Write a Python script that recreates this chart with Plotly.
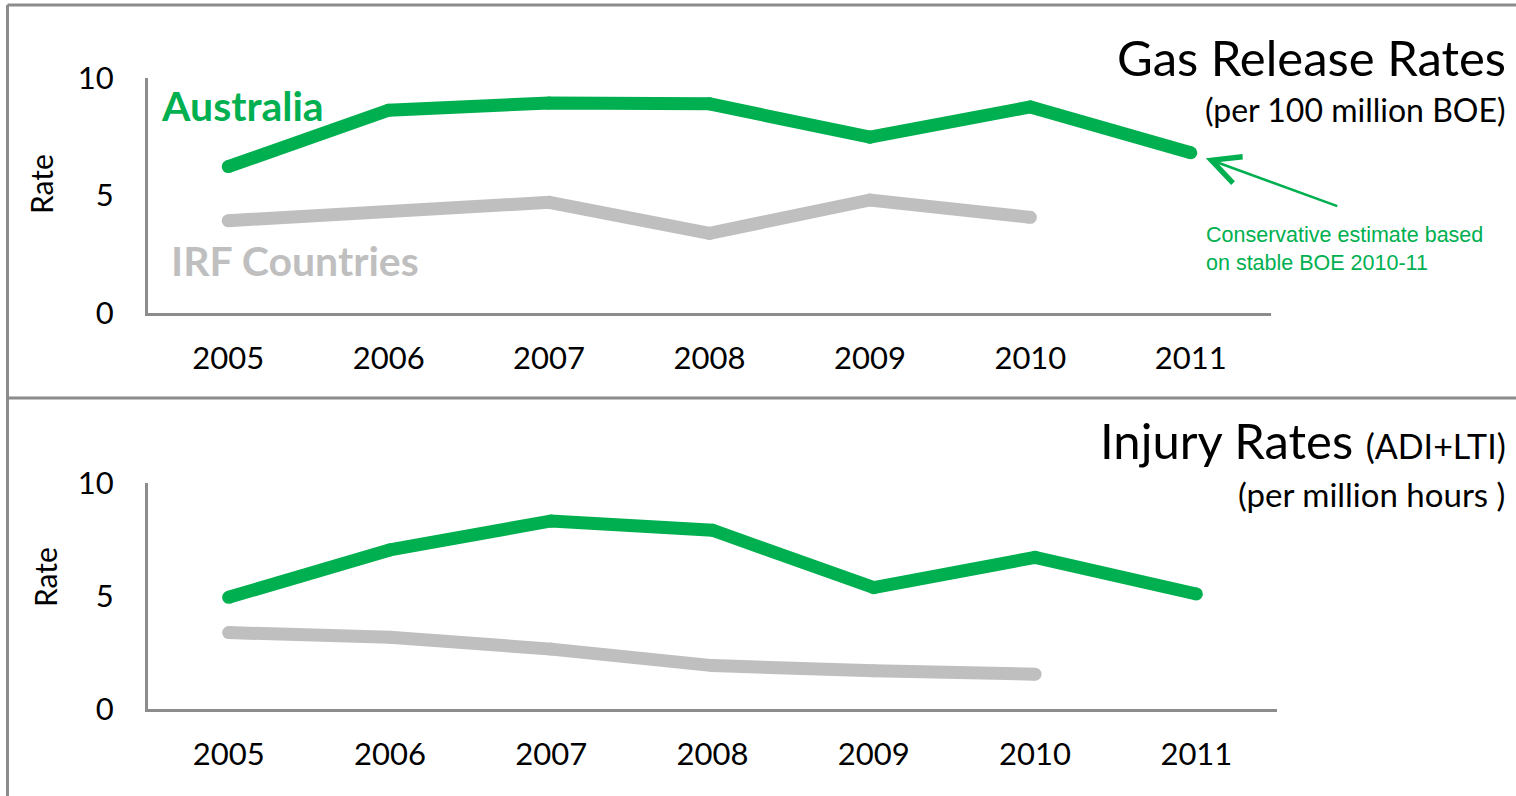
import plotly.graph_objects as go

# Data ---------------------------------------------------------------
years = [2005, 2006, 2007, 2008, 2009, 2010, 2011]
irf_years = [2005, 2006, 2007, 2008, 2009, 2010]

gas_australia = [6.23, 8.63, 8.94, 8.90, 7.48, 8.77, 6.82]
gas_irf = [3.93, 4.32, 4.71, 3.39, 4.81, 4.07]

injury_australia = [4.94, 7.04, 8.32, 7.91, 5.37, 6.71, 5.09]
injury_irf = [3.38, 3.17, 2.65, 1.92, 1.69, 1.54]

y_ticks = [0, 5, 10]

# Styling -------------------------------------------------------------
W, H = 1516, 796
GREEN = "#00B050"
GREY = "#BFBFBF"
AXIS = "#8C8C8C"
FONT = "Lato"
LW = 13


def px_x(x):
    return x / W


def px_y(y):
    return 1 - y / H


fig = go.Figure()


def add_series(xs, ys, color, xaxis, yaxis):
    fig.add_trace(go.Scatter(
        x=xs, y=ys, mode="lines+markers",
        line=dict(color=color, width=LW),
        marker=dict(color=color, size=LW, line=dict(width=0)),
        xaxis=xaxis, yaxis=yaxis, showlegend=False, hoverinfo="x+y",
        cliponaxis=False,
    ))


# Top panel: gas release rates
add_series(irf_years, gas_irf, GREY, "x", "y")
add_series(years, gas_australia, GREEN, "x", "y")
# Bottom panel: injury rates
add_series(irf_years, injury_irf, GREY, "x2", "y2")
add_series(years, injury_australia, GREEN, "x2", "y2")

xaxis_common = dict(
    tickmode="array", tickvals=years, ticktext=[str(y) for y in years],
    range=[2004.5, 2011.5], showgrid=False, zeroline=False,
    showline=True, linecolor=AXIS, linewidth=3,
    ticks="outside", ticklen=16, tickcolor="rgba(0,0,0,0)",
    tickfont=dict(family=FONT, size=31, color="#000000"),
    fixedrange=True, automargin=False,
)
yaxis_common = dict(
    tickmode="array", tickvals=y_ticks, range=[0, 10],
    showgrid=False, zeroline=False,
    showline=True, linecolor=AXIS, linewidth=3,
    ticks="outside", ticklen=25, tickcolor="rgba(0,0,0,0)",
    tickfont=dict(family=FONT, size=31, color="#000000"),
    fixedrange=True, automargin=False,
)

fig.update_layout(
    width=W, height=H,
    margin=dict(l=0, r=0, t=0, b=0, autoexpand=False),
    paper_bgcolor="white", plot_bgcolor="white",
    showlegend=False,
    xaxis=dict(xaxis_common, domain=[px_x(148), px_x(1271)], anchor="y"),
    yaxis=dict(yaxis_common, domain=[px_y(313), px_y(78)], anchor="x"),
    xaxis2=dict(xaxis_common, domain=[px_x(148), px_x(1277)], anchor="y2"),
    yaxis2=dict(yaxis_common, domain=[px_y(709), px_y(483)], anchor="x2"),
)

# Panel frame
frame = dict(type="line", xref="paper", yref="paper",
             line=dict(color=AXIS, width=3), layer="below")
fig.add_shape(frame, x0=px_x(7.5), x1=1, y0=px_y(5), y1=px_y(5))
fig.add_shape(frame, x0=px_x(7.5), x1=px_x(7.5), y0=px_y(5), y1=0)
fig.add_shape(frame, x0=px_x(7.5), x1=1, y0=px_y(398), y1=px_y(398))


def text(x, y, s, size, color="#000000", xanchor="left", bold=False,
         angle=0, family=FONT):
    fig.add_annotation(
        x=px_x(x), y=px_y(y), xref="paper", yref="paper",
        text=f"<b>{s}</b>" if bold else s, showarrow=False,
        xanchor=xanchor, yanchor="middle", textangle=angle,
        font=dict(family=family, size=size, color=color),
    )


# Titles
text(1508, 57, "Gas Release Rates", 49, xanchor="right")
text(1507, 110, "(per 100 million BOE)", 32, xanchor="right")
text(1508, 440, "Injury Rates <span style='font-size:34px'>(ADI+LTI)</span>",
     49, xanchor="right")
text(1507, 494, "(per million hours )", 33, xanchor="right")

# Axis titles
text(41, 184, "Rate", 30, xanchor="center", angle=-90)
text(45, 577, "Rate", 30, xanchor="center", angle=-90)

# Series labels
text(159, 106, "Australia", 41, color=GREEN, bold=True)
text(169, 260, "IRF Countries", 41, color=GREY, bold=True)

# Note on the 2011 estimate
fig.add_annotation(
    x=years[-1], y=gas_australia[-1], xref="x", yref="y",
    ax=148, ay=54, axref="pixel", ayref="pixel",
    showarrow=True, arrowhead=5, arrowsize=2.2, arrowwidth=2.5,
    arrowcolor=GREEN, standoff=16, text="",
)
fig.add_annotation(
    x=px_x(1204), y=px_y(249), xref="paper", yref="paper",
    text="Conservative estimate based<br>on stable BOE 2010-11",
    showarrow=False, xanchor="left", yanchor="middle", align="left",
    font=dict(family="Liberation Sans", size=21.5, color=GREEN),
)

fig.write_html("out.html")
